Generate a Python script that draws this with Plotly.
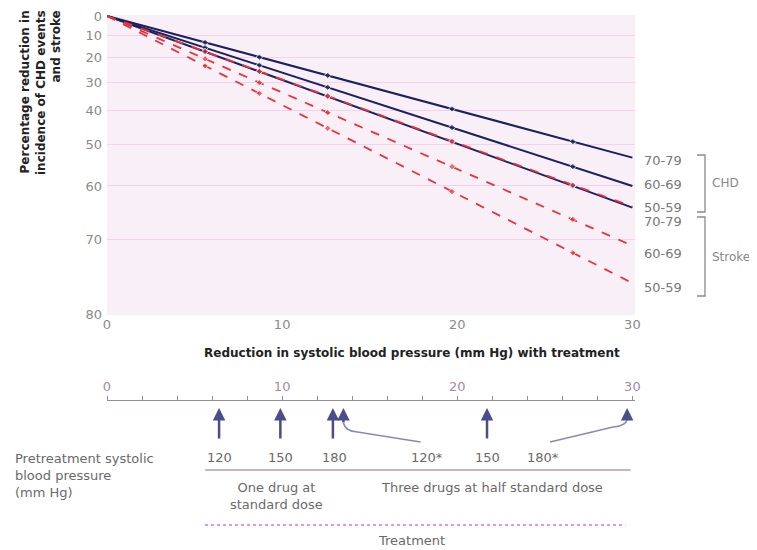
import math
import plotly.graph_objects as go

# ---------------- data ----------------
bp_reduction = [0, 5.6, 8.7, 12.6, 19.7, 26.6, 30]          # mm Hg
chd_70_79 = [0, 13.3, 19.9, 27.4, 39.4, 49.2, 53.4]          # % reduction
chd_60_69 = [0, 15.7, 23.3, 31.9, 45.2, 55.6, 60.0]
chd_50_59 = [0, 17.5, 25.9, 35.2, 49.3, 60.0, 64.4]
stroke_70_79 = [0, 17.4, 25.8, 35.0, 49.1, 59.8, 64.2]
stroke_60_69 = [0, 20.6, 30.2, 40.6, 55.6, 66.6, 71.0]
stroke_50_59 = [0, 23.6, 34.1, 45.4, 61.2, 72.1, 76.3]
age_labels = ["70-79", "60-69", "50-59"]
y_tick_values = [0, 10, 20, 30, 40, 50, 60, 70, 80]
x_tick_values = [0, 10, 20, 30]
x_minor_ticks = list(range(0, 31, 2))
pretreatment_bp = ["120", "150", "180", "120*", "150", "180*"]
treatment_reduction = [6.4, 9.9, 12.9, 13.5, 21.7, 29.7]

# ---------------- layout helpers ----------------
OFF = 8                      # page body margin of the browser
W, H = 757 - OFF, 550 - OFF
ML, MR, MT, MB = 107 - OFF, 757 - 635, 15 - OFF, 10
FONT = "DejaVu Sans"


def px(x):
    return (x - OFF - ML) / (W - ML - MR)


def py(y):
    return (H - MB - (y - OFF)) / (H - MT - MB)


def rr(p):
    return 1 - p / 100.0


NAVY = "#1c2060"
RED = "#e8323c"
GREY = "#6a6a6a"

fig = go.Figure()

series = [
    (chd_70_79, NAVY, "solid"),
    (chd_60_69, NAVY, "solid"),
    (chd_50_59, NAVY, "solid"),
    (stroke_60_69, RED, "dash"),
    (stroke_50_59, RED, "dash"),
    (stroke_70_79, RED, "dash"),
]
for vals, col, dash in series:
    sizes = [0] + [5] * (len(vals) - 2) + [0]
    fig.add_trace(go.Scatter(
        x=bp_reduction, y=[rr(v) for v in vals], mode="lines+markers",
        line=dict(color=col, width=2 if dash == "solid" else 1.8, dash=dash),
        marker=dict(color=col, size=sizes, symbol="diamond"),
        hoverinfo="skip", showlegend=False, xaxis="x", yaxis="y"))

# invisible trace so that the lower scale axis is drawn
fig.add_trace(go.Scatter(x=[0, 30], y=[1, 1], xaxis="x2", yaxis="y", mode="markers",
                         marker=dict(opacity=0), hoverinfo="skip", showlegend=False))

annotations = []
shapes = []


def note(x, y, text, xref="paper", xa="center", ya="middle", size=13, color=GREY, **kw):
    d = dict(xref=xref, yref="paper", x=x, y=py(y), text=text, showarrow=False,
             xanchor=xa, yanchor=ya, font=dict(family=FONT, size=size, color=color))
    d.update(kw)
    annotations.append(d)


# axis titles
note(px(412), 353, "<b>Reduction in systolic blood pressure (mm Hg) with treatment</b>",
     size=12, color="#222")
note(px(40), 93, "<b>Percentage reduction in<br>incidence of CHD events<br>and stroke</b>",
     size=12, color="#222", textangle=-90, align="right")

# right-hand labels
for lab, ypix in zip(age_labels + age_labels, [161, 184, 207, 221, 253, 287]):
    note(px(642), ypix, lab, xa="left", color="#777")
note(px(710), 183, "CHD", xa="left", color="#888", size=12)
note(px(710), 257, "Stroke", xa="left", color="#888", size=12)
for y0, y1 in [(155, 212), (217, 296)]:
    shapes.append(dict(type="path", xref="paper", yref="paper",
                       path=f"M {px(697)},{py(y0)} L {px(705)},{py(y0)} L {px(705)},{py(y1)} L {px(697)},{py(y1)}",
                       line=dict(color="#8a8a8a", width=1.3)))

# arrows from the pretreatment BP labels to the scale
ARROW = "#4a4c8c"
tails = [440, 440, 440, 424, 440, 421]
for xv, tail in zip(treatment_reduction, tails):
    annotations.append(dict(xref="x2", yref="paper", x=xv, y=py(408), ax=0, ay=tail - 408,
                            text="", showarrow=True, arrowhead=2, arrowsize=1, arrowwidth=2.5,
                            arrowcolor=ARROW))
# connectors for the starred labels
t3, t5 = treatment_reduction[3], treatment_reduction[5]
shapes.append(dict(type="path", xref="x2", yref="paper",
                   path=f"M {t3},{py(423)} Q {t3 + 0.1},{py(431)} {t3 + 0.8},{py(432)} L 17.9,{py(442)}",
                   line=dict(color="#8a8ab0", width=1.6)))
shapes.append(dict(type="path", xref="x2", yref="paper",
                   path=f"M {t5},{py(420)} Q {t5 - 0.1},{py(426)} {t5 - 0.8},{py(427)} L 25.3,{py(442)}",
                   line=dict(color="#8a8ab0", width=1.6)))

label_x = [6.4, 9.9, 13.0, 18.3, 21.7, 24.9]
for lab, xv in zip(pretreatment_bp, label_x):
    note(xv, 457, lab, xref="x2")

note(px(13), 475, "Pretreatment systolic<br>blood pressure<br>(mm Hg)", xa="left", align="left")

# treatment groups
shapes.append(dict(type="line", xref="x2", yref="paper", x0=5.6, x1=29.9, y0=py(470), y1=py(470),
                   line=dict(color="#b49aac", width=1.5)))
note(9.7, 496, "One drug at<br>standard dose", xref="x2")
note(22.0, 487, "Three drugs at half standard dose", xref="x2")
shapes.append(dict(type="line", xref="x2", yref="paper", x0=5.6, x1=29.6, y0=py(525), y1=py(525),
                   line=dict(color="#e070d4", width=1.5, dash="dot")))
note(17.4, 540, "Treatment", xref="x2")

ylo = math.log10(0.2) - 0.001
yhi = 0.0023

fig.update_layout(
    width=W, height=H,
    margin=dict(l=ML, r=MR, t=MT, b=MB),
    paper_bgcolor="white",
    plot_bgcolor="#f9f0f7",
    font=dict(family=FONT, size=13, color=GREY),
    showlegend=False,
    xaxis=dict(domain=[0, 1], range=[0, 30.15], anchor="y", tickvals=x_tick_values,
               showgrid=False, zeroline=False, showline=False, ticks="", automargin=False,
               tickfont=dict(family=FONT, size=13, color="#8a8a8a")),
    xaxis2=dict(domain=[0, 1], range=[0, 30.15], anchor="free", overlaying="x",
                position=py(400), side="top", automargin=False,
                tickvals=x_minor_ticks,
                ticktext=[str(v) if v in x_tick_values else "" for v in x_minor_ticks],
                showgrid=False, zeroline=False, showline=True, linecolor="#9a8a96", linewidth=1.3,
                ticks="outside", ticklen=4, tickcolor="#9a8a96",
                tickfont=dict(family=FONT, size=13, color="#a88aa0")),
    yaxis=dict(type="log", domain=[py(315), 1], range=[ylo, yhi], automargin=False,
               tickvals=[rr(v) for v in y_tick_values], ticktext=[str(v) for v in y_tick_values],
               ticklabelstandoff=4,
               showgrid=True, gridcolor="#f4d2ee", gridwidth=1, zeroline=False, showline=False,
               ticks="", tickfont=dict(family=FONT, size=13, color="#8a8a8a")),
    annotations=annotations,
    shapes=shapes,
)

fig.write_html("out.html")
